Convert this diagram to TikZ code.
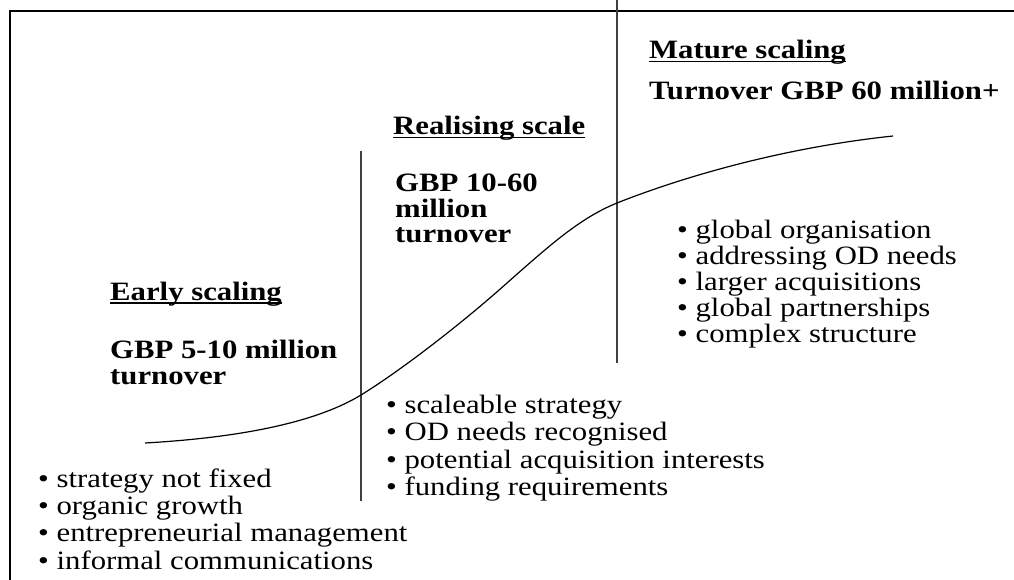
\documentclass[tikz,border=0pt]{standalone}
\usepackage{fontspec}
\setmainfont{Liberation Serif}[FakeStretch=1.16]
\newcommand\hdul[1]{\setbox0\hbox{#1}\rlap{\rule[-3.5pt]{\wd0}{1.8pt}}\box0}
\begin{document}
\begin{tikzpicture}[x=1pt,y=-1pt,
  frame/.style={line width=2.8pt},
  divider/.style={line width=1.3pt, black!75},
  scurve/.style={line width=1.2pt},
  head/.style={anchor=base west, inner sep=0pt, font=\fontsize{26.5}{26.5}\selectfont\bfseries},
  blist/.style={anchor=base west, inner sep=0pt, font=\fontsize{26.5}{26.5}\selectfont}]
\useasboundingbox (0,0) rectangle (1014,580);
\draw[frame] (10,11) rectangle (1040,610);
% dividers
\coordinate (d1top) at (361,151);
\coordinate (d1bot) at (361,501);
\coordinate (d2top) at (617,0);
\coordinate (d2bot) at (617,363);
\draw[divider] (d1top) -- (d1bot);
\draw[divider] (d2top) -- (d2bot);
% growth curve
\coordinate (c0) at (145,443);
\coordinate (c1) at (361,395);
\coordinate (c2) at (507,283);
\coordinate (c3) at (617,203);
\coordinate (c4) at (893,136);
\draw[scurve] (c0) .. controls (250,437) and (320,420) .. (c1)
  .. controls (400,371) and (460,325) .. (c2)
  .. controls (550,245) and (580,218) .. (c3)
  .. controls (680,178) and (780,148) .. (c4);
% early scaling
\node[head] (early) at (110,300) {\hdul{Early scaling}};
\node[head] (earlyg1) at (110,358) {GBP 5-10 million};
\node[head] (earlyg2) at (110,384) {turnover};
\foreach \t [count=\i] in {strategy not fixed, organic growth, entrepreneurial management, informal communications}
  \node[blist] (early\i) at (38,{487+27.4*(\i-1)}) {• \t};
% realising scale
\node[head] (real) at (393,135) {\hdul{Realising scale}};
\node[head] (realg1) at (395,192) {GBP 10-60};
\node[head] (realg2) at (395,217) {million};
\node[head] (realg3) at (395,242) {turnover};
\foreach \t [count=\i] in {scaleable strategy, OD needs recognised, potential acquisition interests, funding requirements}
  \node[blist] (real\i) at (386,{413+27.5*(\i-1)}) {• \t};
% mature scaling
\node[head] (mature) at (649,59) {\hdul{Mature scaling}};
\node[head] (matureg) at (649,100) {Turnover GBP 60 million+};
\foreach \t [count=\i] in {global organisation, addressing OD needs, larger acquisitions, global partnerships, complex structure}
  \node[blist] (mature\i) at (677,{238+26*(\i-1)}) {• \t};
\end{tikzpicture}
\end{document}
